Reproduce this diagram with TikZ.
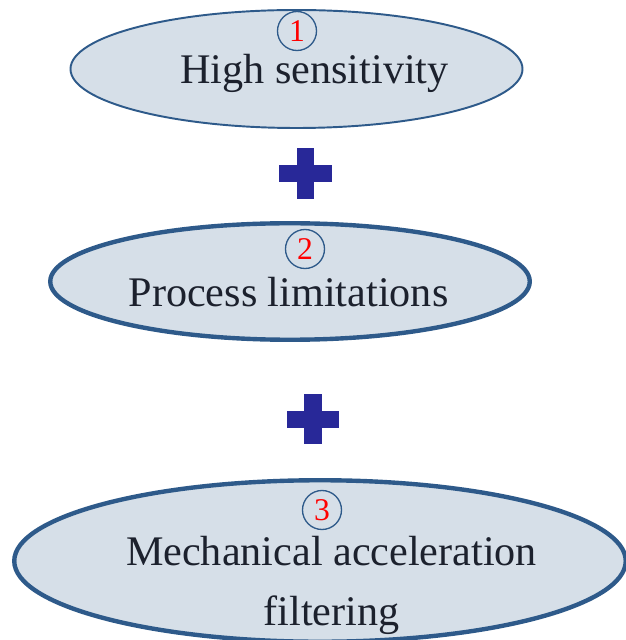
\documentclass[tikz,border=0pt]{standalone}
\usepackage{fontspec}
\setmainfont{Liberation Serif}
\usetikzlibrary{shapes.geometric, positioning}

\definecolor{ovalfill}{RGB}{214,223,232}
\definecolor{ovalline}{RGB}{46,90,138}
\definecolor{plusblue}{RGB}{40,40,152}
\definecolor{textdark}{RGB}{28,33,45}

\begin{document}
\begin{tikzpicture}[
    oval/.style={ellipse, draw=ovalline, fill=ovalfill, inner sep=0pt},
    numcirc/.style={circle, draw=ovalline, line width=0.75pt, minimum size=0.78cm,
        inner sep=0pt, text=red, font=\fontsize{18}{18}\selectfont},
    ovaltext/.style={anchor=base, text=textdark, align=center,
        font=\fontsize{24}{33.6}\selectfont},
    plusarm/.style={fill=plusblue}
]
    \useasboundingbox (0,0) rectangle (12.5,-12.8);

    % ================= Item 1 =================
    \node[oval, line width=1.1pt, minimum width=9.04cm, minimum height=2.36cm] (e1) at (5.93,-1.38) {};
    \node[numcirc] (n1) at (5.94,-0.62) {1};
    \node[ovaltext] (t1) at (6.29,-1.68) {High sensitivity};

    % Plus sign
    \fill[plusarm] (5.58,-3.31) rectangle (6.64,-3.65);
    \fill[plusarm] (5.94,-2.96) rectangle (6.28,-3.98);

    % ================= Item 2 =================
    \node[oval, line width=2.5pt, minimum width=9.59cm, minimum height=2.33cm] (e2) at (5.80,-5.63) {};
    \node[numcirc] (n2) at (6.10,-4.98) {2};
    \node[ovaltext] (t2) at (5.77,-6.14) {Process limitations};

    % Plus sign
    \fill[plusarm] (5.74,-8.22) rectangle (6.78,-8.56);
    \fill[plusarm] (6.08,-7.88) rectangle (6.44,-8.88);

    % ================= Item 3 =================
    \node[oval, line width=2.5pt, minimum width=12.23cm, minimum height=3.23cm] (e3) at (6.40,-11.22) {};
    \node[numcirc] (n3) at (6.44,-10.20) {3};
    % base anchor sits on the last line here
    \node[ovaltext] (t3) at (6.63,-12.50) {Mechanical acceleration\\filtering};

\end{tikzpicture}
\end{document}
